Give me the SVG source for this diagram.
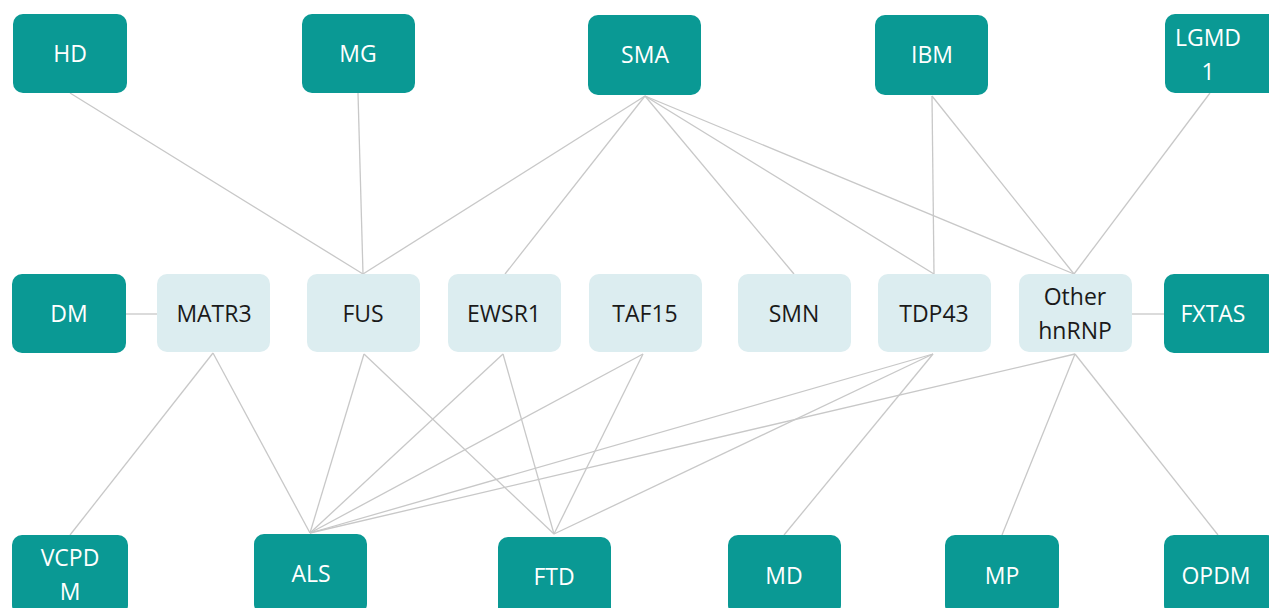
<svg xmlns="http://www.w3.org/2000/svg" width="1269" height="608" viewBox="0 0 1269 608">
<style>
.d{fill:#0A9994}
.p{fill:#DCEDF0}
text{font-family:"Open Sans","Liberation Sans",sans-serif;font-size:23px;text-anchor:middle}
.dt{fill:#FFFFFF}
.pt{fill:#1A1A1A}
.c line{stroke:#C8C8C8;stroke-width:1.3}
</style>
<rect width="1269" height="608" fill="#FFFFFF"/>
<g class="c" id="connectors">
<line x1="70" y1="93" x2="363" y2="274"/>
<line x1="358" y1="93" x2="363" y2="274"/>
<line x1="645" y1="96" x2="363" y2="274"/>
<line x1="645" y1="96" x2="505" y2="274"/>
<line x1="645" y1="96" x2="794" y2="274"/>
<line x1="645" y1="96" x2="934" y2="274"/>
<line x1="645" y1="96" x2="1074" y2="274"/>
<line x1="932" y1="96" x2="934" y2="274"/>
<line x1="932" y1="96" x2="1074" y2="274"/>
<line x1="1210" y1="93" x2="1074" y2="274"/>
<line x1="126" y1="314" x2="157" y2="314"/>
<line x1="1132" y1="314" x2="1164" y2="314"/>
<line x1="213" y1="353" x2="70" y2="535"/>
<line x1="213" y1="353" x2="310" y2="533"/>
<line x1="364" y1="354" x2="310" y2="533"/>
<line x1="364" y1="354" x2="554" y2="534"/>
<line x1="503" y1="354" x2="310" y2="533"/>
<line x1="503" y1="354" x2="554" y2="534"/>
<line x1="643" y1="354" x2="310" y2="533"/>
<line x1="643" y1="354" x2="554" y2="534"/>
<line x1="933" y1="354" x2="310" y2="533"/>
<line x1="933" y1="354" x2="554" y2="534"/>
<line x1="933" y1="354" x2="784" y2="535"/>
<line x1="1075" y1="354" x2="310" y2="533"/>
<line x1="1075" y1="354" x2="1002" y2="535"/>
<line x1="1075" y1="354" x2="1218" y2="535"/>
</g>
<g id="HD"><rect class="d" x="13" y="14" width="114" height="79" rx="10"/><text class="dt" x="70" y="62">HD</text></g>
<g id="MG"><rect class="d" x="302" y="14" width="113" height="79" rx="10"/><text class="dt" x="358" y="62">MG</text></g>
<g id="SMA"><rect class="d" x="588" y="15" width="113" height="80" rx="10"/><text class="dt" x="645" y="63">SMA</text></g>
<g id="IBM"><rect class="d" x="875" y="15" width="113" height="80" rx="10"/><text class="dt" x="932" y="63">IBM</text></g>
<g id="LGMD1"><rect class="d" x="1165" y="14" width="113" height="79" rx="10"/><text class="dt" x="1208" y="46">LGMD</text><text class="dt" x="1208" y="80">1</text></g>
<g id="DM"><rect class="d" x="12" y="274" width="114" height="79" rx="10"/><text class="dt" x="69" y="322">DM</text></g>
<g id="MATR3"><rect class="p" x="157" y="274" width="113" height="78" rx="10"/><text class="pt" x="214" y="322">MATR3</text></g>
<g id="FUS"><rect class="p" x="307" y="274" width="113" height="78" rx="10"/><text class="pt" x="363" y="322">FUS</text></g>
<g id="EWSR1"><rect class="p" x="448" y="274" width="113" height="78" rx="10"/><text class="pt" x="504" y="322">EWSR1</text></g>
<g id="TAF15"><rect class="p" x="589" y="274" width="113" height="78" rx="10"/><text class="pt" x="645" y="322">TAF15</text></g>
<g id="SMN"><rect class="p" x="738" y="274" width="113" height="78" rx="10"/><text class="pt" x="794" y="322">SMN</text></g>
<g id="TDP43"><rect class="p" x="878" y="274" width="113" height="78" rx="10"/><text class="pt" x="934" y="322">TDP43</text></g>
<g id="OtherhnRNP"><rect class="p" x="1019" y="274" width="113" height="78" rx="10"/><text class="pt" x="1075" y="305">Other</text><text class="pt" x="1075" y="339">hnRNP</text></g>
<g id="FXTAS"><rect class="d" x="1164" y="274" width="113" height="79" rx="10"/><text class="dt" x="1213" y="322">FXTAS</text></g>
<g id="VCPDM"><rect class="d" x="12" y="535" width="116" height="80" rx="10"/><text class="dt" x="70" y="566">VCPD</text><text class="dt" x="70" y="600">M</text></g>
<g id="ALS"><rect class="d" x="254" y="534" width="113" height="80" rx="10"/><text class="dt" x="311" y="582">ALS</text></g>
<g id="FTD"><rect class="d" x="498" y="537" width="113" height="80" rx="10"/><text class="dt" x="554" y="585">FTD</text></g>
<g id="MD"><rect class="d" x="728" y="535" width="113" height="80" rx="10"/><text class="dt" x="784" y="584">MD</text></g>
<g id="MP"><rect class="d" x="945" y="535" width="114" height="80" rx="10"/><text class="dt" x="1002" y="584">MP</text></g>
<g id="OPDM"><rect class="d" x="1164" y="535" width="113" height="80" rx="10"/><text class="dt" x="1216" y="584">OPDM</text></g>
</svg>
